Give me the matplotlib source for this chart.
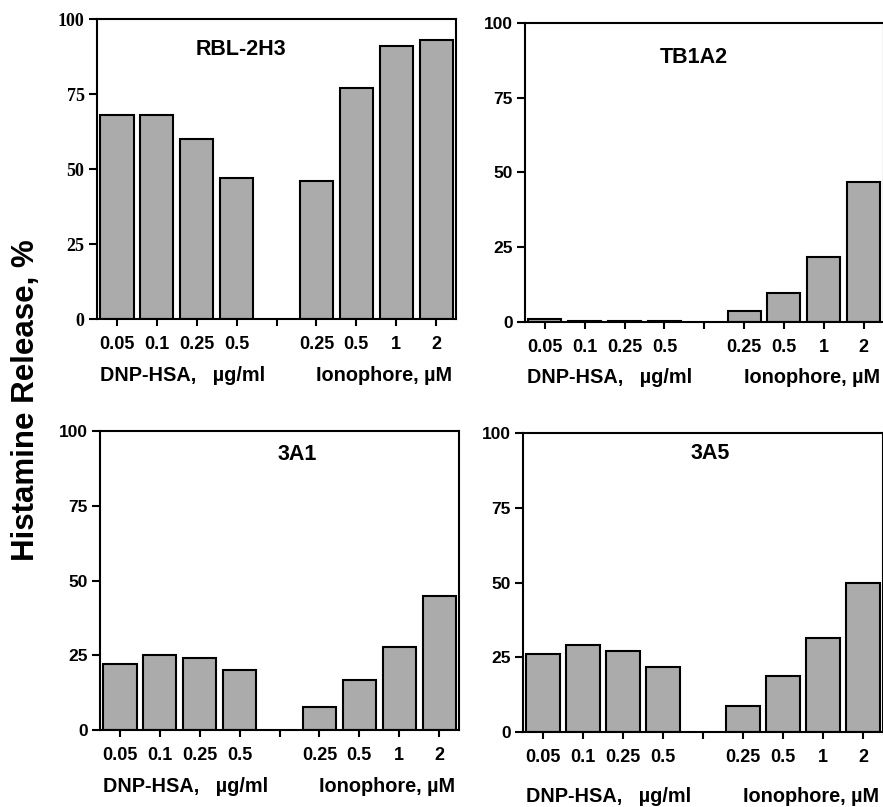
import matplotlib
matplotlib.use("Agg")
import matplotlib.pyplot as plt
import numpy as np

# doses on the x axis (slot 4 is the empty gap between the two groups)
tick_labels = ['0.05', '0.1', '0.25', '0.5', '', '0.25', '0.5', '1', '2']
dnp_pos = [0, 1, 2, 3]
iono_pos = [5, 6, 7, 8]

# histamine release, %
rbl_dnp = [68, 68, 60, 47]
rbl_iono = [46, 77, 91, 93]
tb_dnp = [1.0, 0.4, 0.3, 0.3]
tb_iono = [3.7, 9.7, 21.8, 46.8]
a1_dnp = [22, 25, 24, 20]
a1_iono = [7.7, 16.7, 27.6, 44.8]
a5_dnp = [26, 29, 27, 21.7]
a5_iono = [8.8, 18.6, 31.5, 49.7]

panels = [
    # name, dnp, iono, axes rect, title pos, group label y, serif y ticks
    ("RBL-2H3", rbl_dnp, rbl_iono, [0.1099, 0.6047, 0.4066, 0.3717], (0.40, 0.90), -0.187, True),
    ("TB1A2", tb_dnp, tb_iono, [0.5946, 0.6010, 0.4060, 0.3705], (0.47, 0.886), -0.187, False),
    ("3A1", a1_dnp, a1_iono, [0.1133, 0.0954, 0.4066, 0.3705], (0.55, 0.92), -0.19, False),
    ("3A5", a5_dnp, a5_iono, [0.5923, 0.0929, 0.4077, 0.3705], (0.52, 0.93), -0.217, False),
]

bar_color = '#ababab'
sans = 'Liberation Sans'

fig = plt.figure(figsize=(8.83, 8.07), dpi=100)

for name, dnp, iono, rect, tpos, gy, serif in panels:
    ax = fig.add_axes(rect)
    ax.bar(dnp_pos, dnp, width=0.83, color=bar_color, edgecolor='black', linewidth=1.5)
    ax.bar(iono_pos, iono, width=0.83, color=bar_color, edgecolor='black', linewidth=1.5)
    ax.set_xlim(-0.5, 8.5)
    ax.set_ylim(0, 100)
    ax.set_xticks(range(9))
    ax.set_xticklabels(tick_labels, fontfamily=sans, fontweight='bold', fontsize=13)
    ax.set_yticks([0, 25, 50, 75, 100])
    if serif:
        ax.set_yticklabels(['0', '25', '50', '75', '100'], fontfamily='Liberation Serif',
                           fontweight='bold', fontsize=13)
    else:
        ax.set_yticklabels(['0', '25', '50', '75', '100'], fontfamily=sans,
                           fontweight='bold', fontsize=12.5)
    ax.tick_params(axis='x', direction='out', length=5, width=1.5, pad=7)
    ax.tick_params(axis='y', direction='out', length=6, width=1.5, pad=3)
    for sp in ax.spines.values():
        sp.set_linewidth(1.5)
    ax.text(tpos[0], tpos[1], name, transform=ax.transAxes, ha='center', va='center',
            fontfamily=sans, fontweight='bold', fontsize=15.5)
    ax.text(0.237, gy, "DNP-HSA,   \u00b5g/ml", transform=ax.transAxes, ha='center', va='center',
            fontfamily=sans, fontweight='bold', fontsize=14.3)
    ax.text(0.80, gy, "Ionophore, \u00b5M", transform=ax.transAxes, ha='center', va='center',
            fontfamily=sans, fontweight='bold', fontsize=14.3)

fig.text(0.029, 0.504, "Histamine Release, %", rotation=90, ha='center', va='center',
         fontfamily=sans, fontweight='bold', fontsize=22.5)

fig.savefig("out.png", dpi=100)
